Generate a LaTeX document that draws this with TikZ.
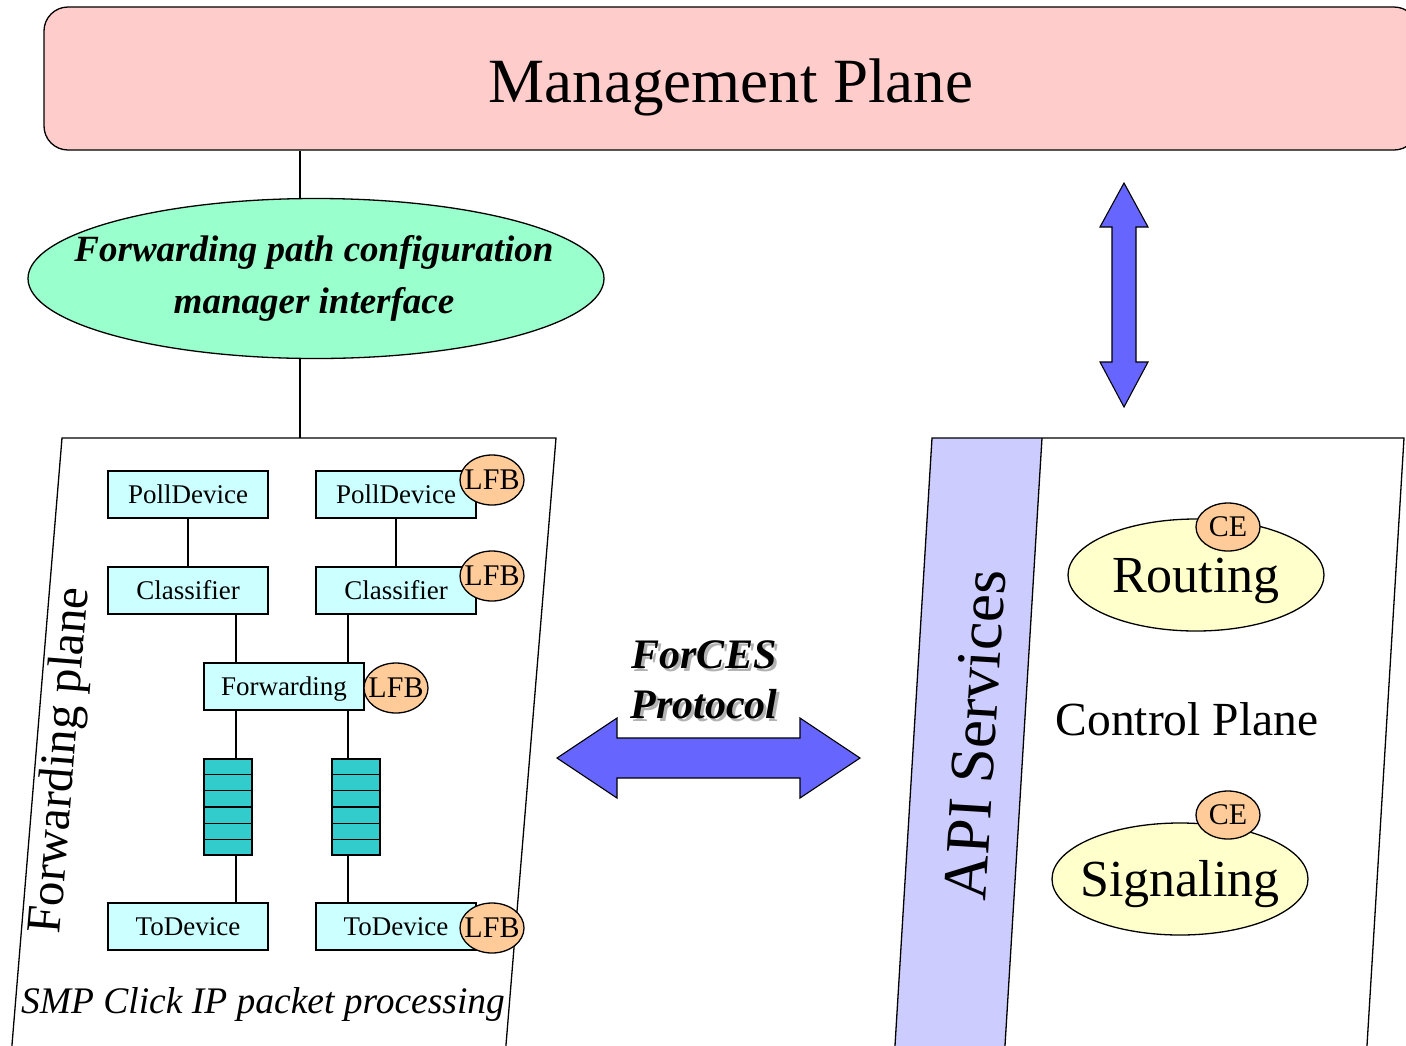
\documentclass[tikz,border=0pt]{standalone}
\usepackage{fontspec}
\setmainfont{Liberation Serif}
\usetikzlibrary{shapes.geometric,calc}
\definecolor{mgmtpink}{HTML}{FFCCCC}
\definecolor{cfggreen}{HTML}{99FFCC}
\definecolor{boxcyan}{HTML}{CCFFFF}
\definecolor{lfborange}{HTML}{FFCC99}
\definecolor{queueteal}{HTML}{33CCCC}
\definecolor{apiblue}{HTML}{CCCCFF}
\definecolor{arrowblue}{HTML}{6666FF}
\definecolor{ceyellow}{HTML}{FFFFCC}
\newcommand\fsz[1]{\fontsize{#1}{#1}\selectfont}
\newcommand\zw[1]{\makebox[0pt]{#1}}
\begin{document}
\begin{tikzpicture}[x=1pt,y=-1pt,line width=1.3pt,
  % centre capital letters on the node centre: height 0.7em, depth 0.04em
  elem/.style={draw,fill=boxcyan,rectangle,minimum width=160pt,minimum height=47pt,
    inner sep=0pt,font=\fsz{27},text height=18.9pt,text depth=1.08pt},
  lfb/.style={draw,fill=lfborange,ellipse,minimum width=64pt,minimum height=50pt,
    inner sep=0pt,font=\fsz{30},text height=21pt,text depth=1.2pt},
  ce/.style={draw,fill=lfborange,ellipse,minimum width=64pt,minimum height=48pt,
    inner sep=0pt,font=\fsz{30},text height=21pt,text depth=1.2pt},
  task/.style={draw,fill=ceyellow,ellipse,minimum width=256pt,minimum height=112pt,
    inner sep=0pt,font=\fsz{52},text height=36.4pt,text depth=2.08pt},
  queue/.style={draw,fill=queueteal,rectangle,minimum width=48pt,minimum height=96pt,inner sep=0pt},
  blockarrow/.style={draw,fill=arrowblue,line width=1.1pt,line join=miter},
]
\clip (0,0) rectangle (1406,1045);
\fill[white] (0,0) rectangle (1406,1045);

% management plane
\node[draw,fill=mgmtpink,rounded corners=24pt,minimum width=1374pt,minimum height=143pt,inner sep=0pt]
  (mgmt) at (731,78.5) {};
\node[font=\fsz{63},text height=44.1pt,text depth=2.52pt] (mgmtlbl) at (731,82) {Management Plane};

% forwarding path configuration manager interface
\node[draw,fill=cfggreen,ellipse,minimum width=576pt,minimum height=160pt,inner sep=0pt]
  (fpc) at (316,278.5) {};
\node[font=\fontsize{37}{52}\selectfont\bfseries\itshape,align=center] (fpclbl) at (314,278)
  {Forwarding path configuration\\manager interface};

% forwarding plane outline
\coordinate (fpTL) at (62,438);
\coordinate (fpTR) at (556,438);
\coordinate (fpBR) at (503.1,1080);
\coordinate (fpBL) at (9.1,1080);
\draw (fpTL) -- (fpTR) -- (fpBR) -- (fpBL) -- cycle;

% control plane outline with API services band
\coordinate (cpTL) at (932,438);
\coordinate (cpTR) at (1404,438);
\coordinate (cpBR) at (1364.9,1080);
\coordinate (cpBL) at (892.9,1080);
\coordinate (apiTR) at (1042,438);
\coordinate (apiBR) at (1002.9,1080);
\fill[apiblue] (cpTL) -- (apiTR) -- (apiBR) -- (cpBL) -- cycle;
\draw (cpTL) -- (cpTR) -- (cpBR) -- (cpBL) -- cycle;
\draw (apiTR) -- (apiBR);

% links from the management plane down to the forwarding plane
\coordinate (tapx) at (300,0);
\coordinate (fpTop) at (300,438);
\draw (mgmt.south -| tapx) -- (fpc.north -| tapx);
\draw (fpc.south -| tapx) -- (fpTop);

% Click elements
\node[elem] (pd1) at (188,494.5) {PollDevice};
\node[elem] (pd2) at (396,494.5) {PollDevice};
\node[elem] (cl1) at (188,590.5) {Classifier};
\node[elem] (cl2) at (396,590.5) {Classifier};
\node[elem] (fw)  at (284,686.5) {Forwarding};
\node[queue] (q1) at (228,807) {};
\node[queue] (q2) at (356,807) {};
\node[elem] (td1) at (188,926.5) {ToDevice};
\node[elem] (td2) at (396,926.5) {ToDevice};

\foreach \q in {q1,q2}{
  \foreach \k in {1,...,5}{
    \draw ($(\q.north west)!\k/6!(\q.south west)$) -- ($(\q.north east)!\k/6!(\q.south east)$);
  }
}

\coordinate (colA) at (236,0);
\coordinate (colB) at (348,0);
\draw (pd1) -- (cl1);
\draw (pd2) -- (cl2);
\draw (cl1.south -| colA) -- (fw.north -| colA);
\draw (cl2.south -| colB) -- (fw.north -| colB);
\draw (fw.south -| colA) -- (q1.north -| colA);
\draw (fw.south -| colB) -- (q2.north -| colB);
\draw (q1.south -| colA) -- (td1.north -| colA);
\draw (q2.south -| colB) -- (td2.north -| colB);

% LFB markers
\node[lfb] (lfb1) at (492,480) {\zw{LFB}};
\node[lfb] (lfb2) at (492,576) {\zw{LFB}};
\node[lfb] (lfb3) at (396,688) {\zw{LFB}};
\node[lfb] (lfb4) at (492,928) {\zw{LFB}};

% plane captions, tilted along the slanted edges
\node[font=\fsz{49},text height=34.3pt,text depth=1.96pt,rotate=85.3] (fplbl) at (58,760) {Forwarding plane};
\node[font=\fsz{37.5}\itshape,text height=26.25pt,text depth=1.5pt] (smplbl) at (263,1001) {SMP Click IP packet processing};

% ForCES protocol arrow
\coordinate (hL) at (557,758);
\coordinate (hR) at (860,758);
\draw[blockarrow] (hL) -- (617,718) -- (617,738) -- (800,738) -- (800,718) -- (hR)
  -- (800,798) -- (800,778) -- (617,778) -- (617,798) -- cycle;
\node[font=\fontsize{42}{50}\selectfont\bfseries\itshape,align=center,text=black!30]
  (forcesshadow) at (707,683) {ForCES\\Protocol};
\node[font=\fontsize{42}{50}\selectfont\bfseries\itshape,align=center]
  (forces) at (704,680) {ForCES\\Protocol};

% management to control plane arrow
\coordinate (vT) at (1124,183);
\coordinate (vB) at (1124,407);
\draw[blockarrow] (vT) -- (1148,227) -- (1136,227) -- (1136,362) -- (1148,362) -- (vB)
  -- (1100,362) -- (1112,362) -- (1112,227) -- (1100,227) -- cycle;

% control plane contents
\node[font=\fsz{63},text height=44.1pt,text depth=2.52pt,rotate=86.5] (apilbl) at (975,735) {API Services};
\node[font=\fsz{47.5},text height=33.25pt,text depth=1.9pt] (cplbl) at (1187,720) {Control Plane};
\node[task] (routing) at (1196,575) {Routing};
\node[task] (signaling) at (1180,879) {\zw{Signaling}};
\node[ce] (ce1) at (1228,527) {\zw{CE}};
\node[ce] (ce2) at (1228,815) {\zw{CE}};
\end{tikzpicture}
\end{document}
